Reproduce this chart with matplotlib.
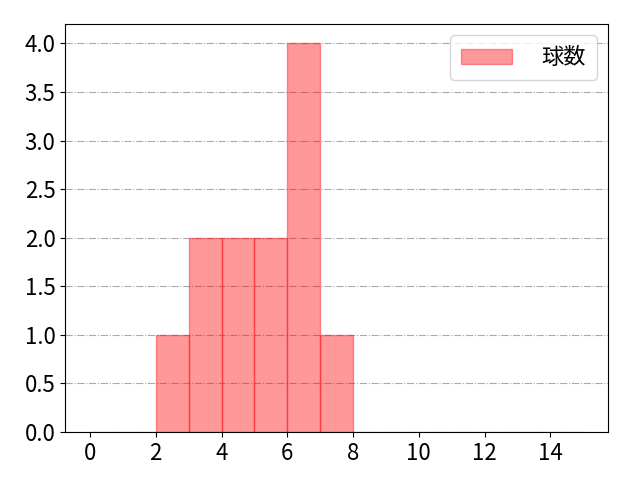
import matplotlib
matplotlib.use('Agg')
import matplotlib.pyplot as plt

plt.rcParams['font.family'] = ['Noto Sans CJK JP', 'DejaVu Sans']

# bin edges and counts of the histogram
bin_lefts = list(range(0, 15))
counts = [0, 0, 1, 2, 2, 2, 4, 1, 0, 0, 0, 0, 0, 0, 0]
label = '球数'

fig, ax = plt.subplots(figsize=(6.4, 4.8), dpi=100)
ax.bar(bin_lefts, counts, width=1, align='edge', color='red', alpha=0.4,
       edgecolor='red', linewidth=1, label=label)
ax.set_xticks([0, 2, 4, 6, 8, 10, 12, 14])
ax.tick_params(labelsize=16)
ax.grid(axis='y', linestyle='-.', color='#aaaaaa', linewidth=0.8)
ax.set_axisbelow(True)
ax.legend(fontsize=16, handlelength=2.3, handletextpad=1.3, loc='upper right',
          borderpad=0.5)
fig.subplots_adjust(left=0.102, right=0.95, top=0.95, bottom=0.1)
plt.savefig('out.png')
